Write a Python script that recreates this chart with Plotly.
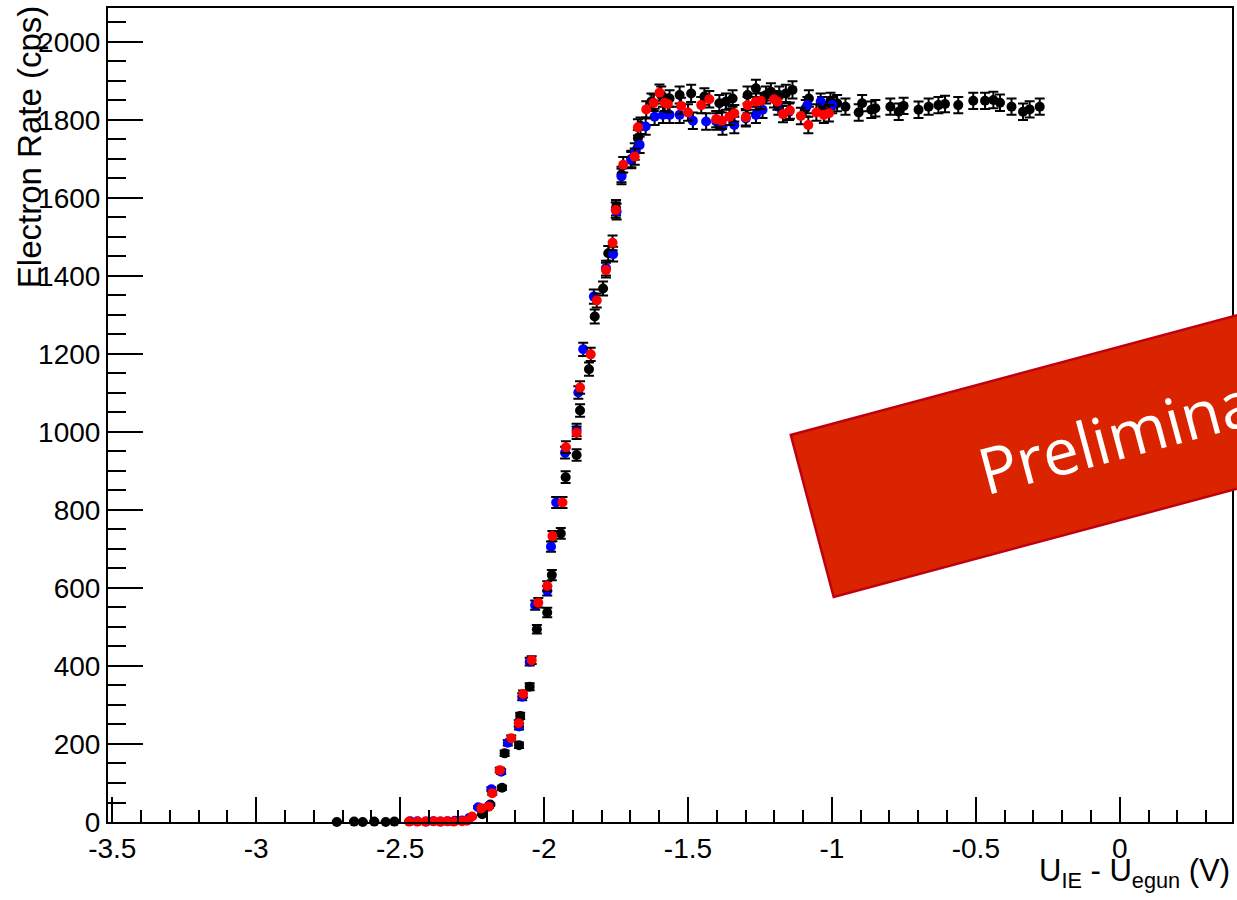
import math
import plotly.graph_objects as go

# ---------------- data ----------------
black_x = [-2.72, -2.66, -2.63, -2.59, -2.55, -2.52,
           -2.215, -2.187, -2.146, -2.137, -2.087, -2.083, -2.050, -2.025, -1.989, -1.973,
           -1.942, -1.925, -1.887, -1.875, -1.844, -1.824, -1.795, -1.777, -1.750, -1.731,
           -1.697, -1.674, -1.665,
           -1.627, -1.593, -1.564, -1.529, -1.489, -1.443, -1.391, -1.368, -1.345, -1.293,
           -1.264, -1.229, -1.212, -1.183, -1.160, -1.137, -1.091, -1.080, -1.034, -1.005,
           -0.982, -0.953, -0.907, -0.895, -0.863, -0.849, -0.797, -0.768, -0.751, -0.699,
           -0.664, -0.630, -0.607, -0.561, -0.509, -0.468, -0.439, -0.416, -0.376, -0.336,
           -0.313, -0.278]
black_y = [0, 1, 0, 1, 0, 1,
           20, 45, 88, 176, 197, 272, 347, 494, 537, 633,
           740, 884, 941, 1055, 1161, 1296, 1368, 1458, 1575, 1660,
           1700, 1753, 1785,
           1847, 1864, 1855, 1864, 1868, 1860, 1843, 1847, 1855, 1864,
           1881, 1864, 1872, 1864, 1868, 1877, 1830, 1855, 1838, 1849,
           1843, 1834, 1819, 1843, 1826, 1830, 1834, 1821, 1836, 1826,
           1834, 1838, 1841, 1838, 1849, 1849, 1851, 1844, 1834, 1821,
           1827, 1834]
black_err = [1, 1, 1, 1, 1, 1,
             2, 3, 5, 7, 7, 8, 9, 11, 12, 13,
             14, 15, 15, 16, 17, 18, 18, 19, 20, 20,
             21, 21, 21,
             21, 22, 21, 22, 22, 21, 21, 21, 21, 22,
             22, 22, 22, 22, 22, 22, 21, 21, 21, 21,
             21, 21, 21, 21, 21, 21, 21, 21, 21, 21,
             21, 21, 21, 21, 21, 21, 21, 21, 21, 21,
             21, 21]

blue_x = [-2.465, -2.44, -2.41, -2.385, -2.36, -2.335, -2.31, -2.285, -2.26,
          -2.229, -2.192, -2.183, -2.149, -2.126, -2.087, -2.076, -2.050, -2.031, -1.989,
          -1.976, -1.958, -1.927, -1.887, -1.881, -1.864, -1.827, -1.785, -1.760, -1.748,
          -1.731, -1.697, -1.685, -1.668, -1.647, -1.616, -1.587, -1.564, -1.529, -1.483,
          -1.437, -1.402, -1.380, -1.339, -1.299, -1.264, -1.241, -1.186, -1.149, -1.085,
          -1.039, -0.999]
blue_y = [2, 2, 1, 2, 1, 2, 3, 4, 10,
          38, 41, 84, 129, 203, 245, 321, 411, 556, 593,
          706, 819, 947, 1005, 1101, 1212, 1347, 1420, 1456, 1565,
          1655, 1697, 1719, 1736, 1783, 1808, 1813, 1813, 1813, 1798,
          1796, 1796, 1783, 1787, 1804, 1813, 1826, 1834, 1821, 1838,
          1847, 1838]
blue_err = [1, 1, 1, 1, 1, 1, 1, 1, 2,
            3, 3, 5, 6, 7, 8, 9, 10, 12, 12,
            13, 14, 15, 16, 16, 17, 18, 19, 19, 20,
            20, 21, 21, 21, 21, 21, 21, 21, 21, 21,
            21, 21, 21, 21, 21, 21, 21, 21, 21, 21,
            21, 21]

red_x = [-2.469, -2.44, -2.412, -2.383, -2.36, -2.337, -2.314, -2.285, -2.268, -2.250,
         -2.218, -2.192, -2.180, -2.154, -2.114, -2.088, -2.073, -2.043, -2.020, -1.989,
         -1.971, -1.936, -1.924, -1.887, -1.875, -1.838, -1.817, -1.785, -1.762, -1.751,
         -1.725, -1.685, -1.674, -1.645, -1.619, -1.599, -1.581, -1.570, -1.524, -1.500,
         -1.454, -1.426, -1.402, -1.382, -1.356, -1.339, -1.299, -1.293, -1.264, -1.247,
         -1.201, -1.189, -1.170, -1.146, -1.108, -1.082, -1.054, -1.028, -1.010]
red_y = [1, 1, 1, 2, 1, 2, 1, 2, 3, 14,
         35, 39, 74, 133, 215, 253, 328, 415, 562, 605,
         733, 819, 961, 998, 1114, 1199, 1337, 1415, 1485, 1569,
         1685, 1706, 1781, 1827, 1844, 1870, 1844, 1841, 1836, 1819,
         1838, 1853, 1802, 1798, 1808, 1817, 1807, 1838, 1847, 1849,
         1853, 1847, 1815, 1824, 1810, 1787, 1819, 1813, 1817]
red_err = [1, 1, 1, 1, 1, 1, 1, 1, 1, 2,
           3, 3, 4, 6, 7, 8, 9, 10, 12, 12,
           13, 14, 15, 16, 16, 17, 18, 19, 19, 20,
           20, 21, 21, 21, 21, 21, 21, 21, 21, 21,
           21, 21, 21, 21, 21, 21, 21, 21, 21, 21,
           21, 21, 21, 21, 21, 21, 21, 21, 21]

x_tick_vals = [-3.5, -3, -2.5, -2, -1.5, -1, -0.5, 0]
x_tick_text = ["-3.5", "-3", "-2.5", "-2", "-1.5", "-1", "-0.5", "0"]
y_tick_vals = [0, 200, 400, 600, 800, 1000, 1200, 1400, 1600, 1800, 2000]
y_tick_text = ["0", "200", "400", "600", "800", "1000", "1200", "1400", "1600", "1800", "2000"]

x_title = "U<sub>IE</sub> - U<sub>egun</sub> (V)"
y_title = "Electron Rate (cps)"
banner_text = "Preliminary"

# ---------------- layout geometry (pixels) ----------------
W, H = 1237, 900
L, R, T, B = 108, 3, 8, 78
PW = W - L - R
PH = H - T - B


def px_to_paper(px, py):
    return (px - L) / PW, (H - B - py) / PH


FONT = "Liberation Sans, Arial, Helvetica, sans-serif"

fig = go.Figure()


def add_series(xs, ys, errs, color):
    fig.add_trace(go.Scatter(
        x=xs, y=ys, mode="markers",
        marker=dict(color=color, size=10, line=dict(width=0)),
        error_y=dict(type="data", array=errs, visible=True, color="black",
                     thickness=2, width=5),
        cliponaxis=False, showlegend=False,
    ))


add_series(black_x, black_y, black_err, "black")
add_series(blue_x, blue_y, blue_err, "#0000ff")
add_series(red_x, red_y, red_err, "#ff0000")

# ---------------- banner ----------------
ang = math.radians(15)
ux, uy = math.cos(ang), -math.sin(ang)
p1 = (792, 435)
p2 = (835, 597)
length = 720
p3 = (p2[0] + length * ux, p2[1] + length * uy)
p4 = (p1[0] + length * ux, p1[1] + length * uy)
pts = [px_to_paper(*p) for p in (p1, p2, p3, p4)]
path = "M {} {} L {} {} L {} {} L {} {} Z".format(
    pts[0][0], pts[0][1], pts[1][0], pts[1][1], pts[2][0], pts[2][1], pts[3][0], pts[3][1])
fig.add_shape(type="path", path=path, xref="paper", yref="paper",
              fillcolor="#da2400", line=dict(color="#c00010", width=2.5), layer="above")

tc = px_to_paper(1147, 428)
fig.add_annotation(text=banner_text, x=tc[0], y=tc[1], xref="paper", yref="paper",
                   xanchor="center", yanchor="middle", showarrow=False, textangle=-15,
                   font=dict(family="Open Sans, Noto Sans, sans-serif", size=64, color="white"))

# ---------------- axis titles ----------------
xt = px_to_paper(1234, 873)
fig.add_annotation(text=x_title, x=1.0, y=xt[1], xref="paper", yref="paper",
                   xanchor="right", yanchor="middle", showarrow=False,
                   font=dict(family=FONT, size=31, color="black"))
yt = px_to_paper(29, 4)
fig.add_annotation(text=y_title, x=yt[0], y=yt[1], xref="paper", yref="paper",
                   xanchor="center", yanchor="top", showarrow=False, textangle=-90,
                   font=dict(family=FONT, size=33, color="black"))

fig.update_layout(
    width=W, height=H,
    margin=dict(l=L, r=R, t=T, b=B, pad=0),
    paper_bgcolor="white", plot_bgcolor="white",
    showlegend=False,
    xaxis=dict(range=[-3.515, 0.39], tickmode="array", tickvals=x_tick_vals, ticktext=x_tick_text,
               ticks="inside", ticklen=25, tickwidth=1.5, tickcolor="black",
               minor=dict(tickmode="linear", tick0=0, dtick=0.1, ticks="inside", ticklen=12,
                          tickwidth=1.5, tickcolor="black"),
               showline=True, linecolor="black", linewidth=2, mirror=True,
               showgrid=False, zeroline=False,
               tickfont=dict(family=FONT, size=28, color="black")),
    yaxis=dict(range=[0, 2087], tickmode="array", tickvals=y_tick_vals, ticktext=y_tick_text,
               ticks="inside", ticklen=35, tickwidth=1.5, tickcolor="black",
               minor=dict(tickmode="linear", tick0=0, dtick=50, ticks="inside", ticklen=18,
                          tickwidth=1.5, tickcolor="black"),
               showline=True, linecolor="black", linewidth=2, mirror=True,
               showgrid=False, zeroline=False,
               tickfont=dict(family=FONT, size=28, color="black")),
)

post = ("document.body.style.margin='0px';"
        "document.body.style.padding='0px';"
        "document.body.style.overflow='hidden';"
        "document.documentElement.style.overflow='hidden';")

fig.write_html("out.html", config={"responsive": False, "displayModeBar": False},
               post_script=post)
